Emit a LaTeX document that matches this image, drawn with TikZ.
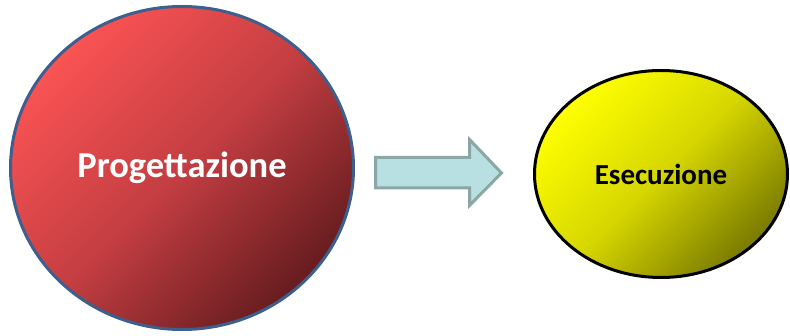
\documentclass[tikz,border=0pt]{standalone}
\usepackage{fontspec}
\setmainfont{Carlito}
\usetikzlibrary{shapes.geometric}
\definecolor{redlight}{HTML}{FA5353}
\definecolor{redmid}{HTML}{C43E42}
\definecolor{reddark}{HTML}{661C1F}
\definecolor{redborder}{HTML}{3C5F8E}
\definecolor{yellowlight}{HTML}{FFFF00}
\definecolor{yellowmid}{HTML}{D6D600}
\definecolor{yellowdark}{HTML}{7A7A00}
\definecolor{arrowfill}{HTML}{B8DFE2}
\definecolor{arrowline}{HTML}{8AA6A5}
\tikzset{
  bubble/.style={ellipse, inner sep=0pt, outer sep=0pt, line width=3pt, font=\bfseries},
}
\begin{document}
\begin{tikzpicture}[x=1pt,y=-1pt]
  \useasboundingbox (0,0) rectangle (790,336);
  \node[bubble, draw=redborder, minimum width=343pt, minimum height=323pt,
        top color=redlight, bottom color=reddark, middle color=redmid, shading angle=45,
        text=white, font=\bfseries\fontsize{36.5}{40}\selectfont]
        (prog) at (182,168) {Progettazione};
  \node[bubble, draw=black, minimum width=253pt, minimum height=207pt,
        top color=yellowlight, bottom color=yellowdark, middle color=yellowmid, shading angle=45,
        text=black, font=\bfseries\fontsize{29}{32}\selectfont]
        (esec) at (661,174) {Esecuzione};
  \draw[line width=3pt, draw=arrowline, fill=arrowfill, line join=miter]
    (375.5,157.5) -- (469.5,157.5) -- (469.5,139.5) -- (501.5,173) -- (469.5,205.5)
    -- (469.5,188) -- (375.5,188) -- cycle;
\end{tikzpicture}
\end{document}
